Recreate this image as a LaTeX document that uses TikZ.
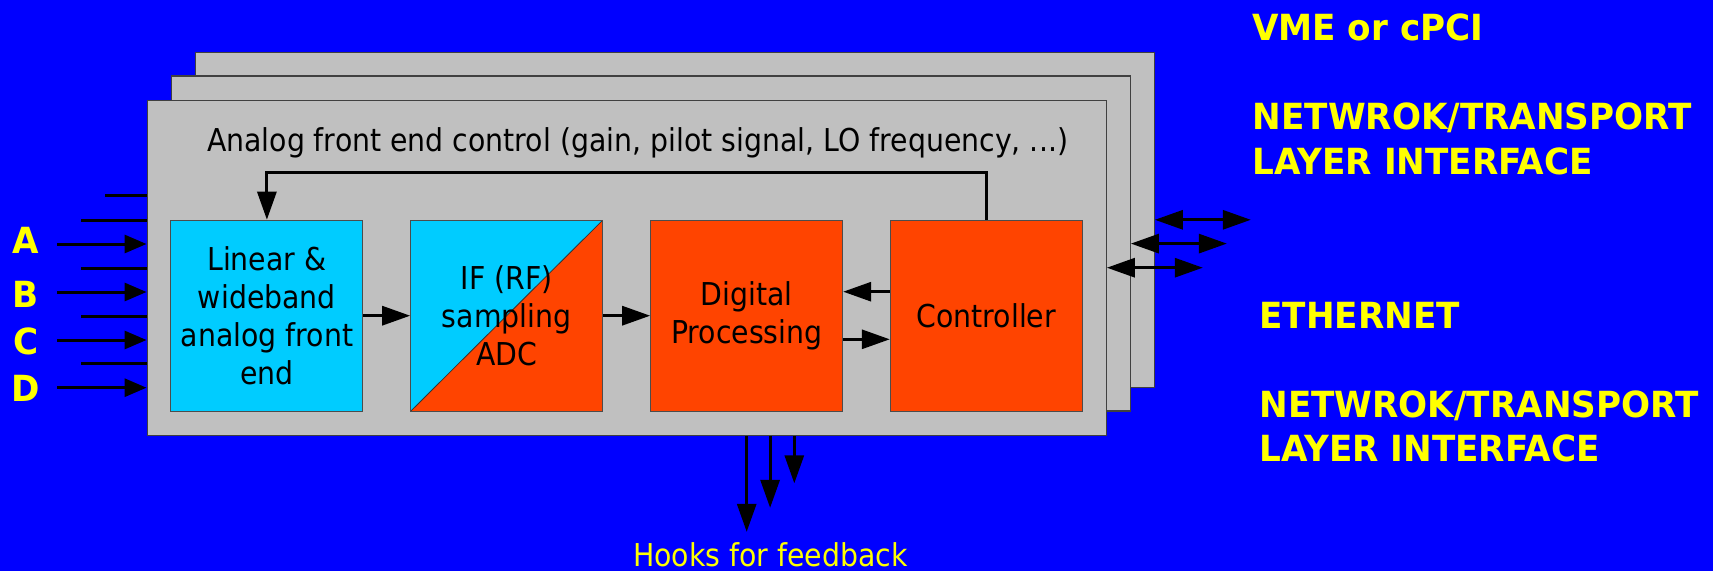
\documentclass[tikz,border=0pt]{standalone}
\usepackage{fontspec}
\setmainfont{DejaVu Sans}
\newfontfamily\condf{DejaVu Sans}[FakeStretch=0.9]
\newfontfamily\labf{DejaVu Sans}[FakeStretch=0.95]
\usetikzlibrary{arrows.meta,calc}
\definecolor{bg}{HTML}{0000FF}
\definecolor{panel}{HTML}{C0C0C0}
\definecolor{cyanb}{HTML}{00CCFF}
\definecolor{redb}{HTML}{FF4400}
\definecolor{yel}{HTML}{FFFF00}
\begin{document}
\begin{tikzpicture}[x=1pt,y=-1pt,
  panelbox/.style={draw=black!75, line width=1.3pt, fill=panel, minimum width=959pt, minimum height=335pt, inner sep=0pt},
  block/.style={draw=black!70, line width=1pt, minimum width=192pt, minimum height=191pt, inner sep=0pt, align=center, font={\condf\fontsize{31.5}{38.3}\selectfont}, text=black},
  intext/.style={inner sep=0pt, font={\condf\fontsize{31.5}{38}\selectfont}},
  lab/.style={inner sep=0pt, text=yel, font={\labf\bfseries\fontsize{36}{45}\selectfont}},
  arr/.style={line width=3pt, -{Triangle[length=28pt,width=19pt]}},
  inarr/.style={line width=3pt, -{Triangle[length=22pt,width=18pt]}},
  darr/.style={line width=3pt, {Triangle[length=28pt,width=19pt]}-{Triangle[length=28pt,width=19pt]}},
  plain/.style={line width=3pt}
]
\useasboundingbox (0,0) rectangle (1713,571);
\fill[bg] (0,0) rectangle (1713,571);

% stacked boards
\node[panelbox] (p3) at (674.7,219.8) {};
\node[panelbox] (p2) at (650.7,243.6) {};
\node[panelbox] (front) at (626.7,267.7) {};

% blocks
\node[block, fill=cyanb] (lin) at (266.9,315.7) {Linear \&\\wideband\\analog front\\end};
\node[block, fill=cyanb, path picture={
    \fill[redb] (path picture bounding box.south west) -- (path picture bounding box.north east) -- (path picture bounding box.south east) -- cycle;
    \draw[black!80, line width=0.8pt] (path picture bounding box.south west) -- (path picture bounding box.north east);
  }] (adc) at (506.7,315.7) {IF (RF)\\sampling\\ADC};
\node[block, fill=redb] (dp) at (746.7,315.7) {Digital\\Processing};
\node[block, fill=redb] (ctrl) at (986.3,315.7) {Controller};

% control text
\node[intext, anchor=base] (aectl) at (637.5,151.7) {Analog front end control (gain, pilot signal, LO frequency, ...)};

% feedback loop
\coordinate (fbk) at ($(ctrl.north)+(0,-47.5)$);
\draw[arr] (ctrl.north) -- (fbk) -| (lin.north);

% internal arrows
\draw[arr] (lin.east) -- (adc.west);
\draw[arr] (adc.east) -- (dp.west);
\draw[arr] ([yshift=24pt]ctrl.west) -- ([yshift=24pt]dp.east);
\draw[arr] ([yshift=-23.6pt]dp.east) -- ([yshift=-23.6pt]ctrl.west);

% bus double arrows
\coordinate (e3) at ($(p3.east)+(96,0)$);
\coordinate (e2) at ($(p2.east)+(96,0)$);
\coordinate (e1) at ($(front.east)+(96,0)$);
\draw[darr] (p3.east) -- (e3);
\draw[darr] (p2.east) -- (e2);
\draw[darr] (front.east) -- (e1);

% hooks for feedback
\coordinate (h1a) at (front.south -| dp.center);
\coordinate (h2a) at ($(h1a)+(23.4,0)$);
\coordinate (h3a) at ($(h1a)+(47.6,0)$);
\coordinate (h1b) at ($(h1a)+(0,96)$);
\coordinate (h2b) at ($(h2a)+(0,72)$);
\coordinate (h3b) at ($(h3a)+(0,47.5)$);
\draw[arr] (h1a) -- (h1b);
\draw[arr] (h2a) -- (h2b);
\draw[arr] (h3a) -- (h3b);
\node[intext, text=yel, anchor=base] (hooks) at (770.5,566.7) {Hooks for feedback};

% inputs
\coordinate (l0) at (105,195.7);
\coordinate (l1) at (81,220);
\coordinate (l2) at (81,268);
\coordinate (l3) at (81,316);
\coordinate (l4) at (81,363.3);
\coordinate (iA) at (57,244);
\coordinate (iB) at (57,292);
\coordinate (iC) at (57,340);
\coordinate (iD) at (57,387.7);
\foreach \c in {l0,l1,l2,l3,l4} \draw[plain] (\c) -- (\c -| front.west);
\foreach \c in {iA,iB,iC,iD} \draw[inarr] (\c) -- (\c -| front.west);

\node[lab, anchor=base] (la) at (25.7,253) {A};
\node[lab, anchor=base] (lb) at (25.7,307) {B};
\node[lab, anchor=base] (lc) at (25.7,354) {C};
\node[lab, anchor=base] (ld) at (25.7,401.5) {D};

% right-hand labels
\node[lab, anchor=base west] (vme) at (1252,40) {VME or cPCI};
\node[lab, anchor=base west] (net1) at (1252.5,129.3) {NETWROK/TRANSPORT};
\node[lab, anchor=base west] (lay1) at (1252.5,174.3) {LAYER INTERFACE};
\node[lab, anchor=base west] (eth) at (1259.3,328.3) {ETHERNET};
\node[lab, anchor=base west] (net2) at (1259.3,417.3) {NETWROK/TRANSPORT};
\node[lab, anchor=base west] (lay2) at (1259.3,461.7) {LAYER INTERFACE};
\end{tikzpicture}
\end{document}
